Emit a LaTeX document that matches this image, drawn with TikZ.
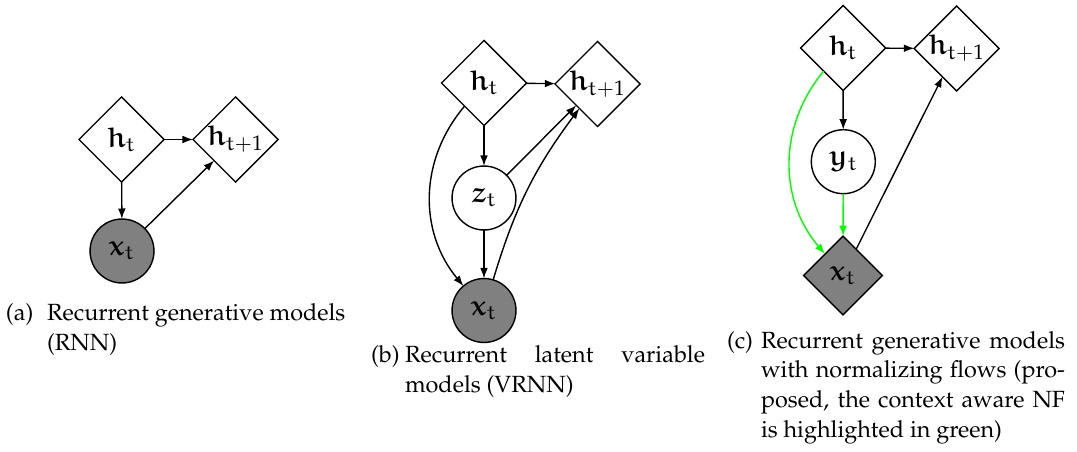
\documentclass[tikz,border=0pt]{standalone}
\usepackage[T1]{fontenc}
\usepackage{mathpazo}
\usepackage{amsmath}
\usetikzlibrary{shapes.geometric,arrows.meta}

% upright Euler letters for the variables
\DeclareFontFamily{U}{myeur}{}
\DeclareFontShape{U}{myeur}{m}{n}{<-> eurm10}{}
\DeclareFontShape{U}{myeur}{b}{n}{<-> eurb10}{}
\DeclareMathAlphabet{\matheu}{U}{myeur}{m}{n}
\DeclareMathAlphabet{\mathbeu}{U}{myeur}{b}{n}
\newcommand{\rv}[2]{$\mathbeu{#1}_{\matheu{#2}}$}

% a caption line stretched to the full caption width
\newcommand{\spreadline}[2]{\makebox[#1][s]{#2}}

\begin{document}
\begin{tikzpicture}[x=0.427pt,y=0.427pt,
  every node/.style={inner sep=0pt, outer sep=0pt},
  hid/.style={diamond, aspect=1, draw, line width=0.6pt, minimum size=36.3pt, font=\large},
  lat/.style={circle, draw, line width=0.6pt, minimum size=27.3pt, font=\large},
  obs/.style={lat, fill=black!50},
  obsd/.style={hid, minimum size=33.7pt, fill=black!50},
  link/.style={-{Latex[length=4.5pt,width=3.3pt]}, line width=0.6pt},
  nf/.style={link, draw=green},
  % multi-line captions are placed by the baseline of their last line
  captext/.style={font=\fontsize{10}{12.6}\selectfont, align=left, anchor=base west},
  caplabel/.style={font=\fontsize{10}{12.6}\selectfont, anchor=base west}
]
\useasboundingbox (0,0) rectangle (1077,451);

% ---------- (a) RNN ----------
\node[hid] (aht)  at (121.5,311.5) {\rv{h}{t}};
\node[hid] (aht1) at (235.5,311.5) {$\mathbeu{h}_{\matheu{t}+1}$};
\node[obs] (axt)  at (122,200)     {\rv{x}{t}};
\draw[link] (aht) -- (aht1);
\draw[link] (aht) -- (axt);
\draw[link] (axt) -- (aht1);
\node[caplabel] (alab) at (6,131) {(a)};
\node[captext] (acap) at (47,101) {Recurrent generative models\\(RNN)};

% ---------- (b) VRNN ----------
\node[hid] (bht)  at (484,368)   {\rv{h}{t}};
\node[hid] (bht1) at (597.5,367) {$\mathbeu{h}_{\matheu{t}+1}$};
\node[lat] (bzt)  at (484,253)   {\rv{z}{t}};
\node[obs] (bxt)  at (484,140.5) {\rv{x}{t}};
\draw[link] (bht) -- (bht1);
\draw[link] (bht) -- (bzt);
\draw[link] (bzt) -- (bxt);
\draw[link] (bzt) -- (bht1);
\draw[link] (bht) to[bend right=40] (bxt);
\draw[link] (bxt) to[bend left=10] (bht1);
\node[caplabel] (blab) at (371,89) {(b)};
\node[captext] (bcap) at (405,59) {\spreadline{128.1pt}{Recurrent latent variable}\\models (VRNN)};

% ---------- (c) proposed ----------
\node[hid]  (cht)  at (843,403)     {\rv{h}{t}};
\node[hid]  (cht1) at (956.7,402.5) {$\mathbeu{h}_{\matheu{t}+1}$};
\node[lat]  (cyt)  at (843.3,289.3) {\rv{y}{t}};
\node[obsd] (cxt)  at (843,175.5)   {\rv{x}{t}};
\draw[link] (cht) -- (cht1);
\draw[link] (cht) -- (cyt);
\draw[nf]   (cyt) -- (cxt);
\draw[nf]   (cht) to[bend right=40] (cxt);
\draw[link] (cxt) -- (cht1);
\node[caplabel] (clab) at (727,103) {(c)};
\node[captext] (ccap) at (761,14) {\spreadline{129.8pt}{Recurrent generative models}\\
  \spreadline{129.8pt}{with normalizing flows (pro-}\\
  \spreadline{129.8pt}{posed, the context aware NF}\\
  is highlighted in green)};
\end{tikzpicture}
\end{document}
